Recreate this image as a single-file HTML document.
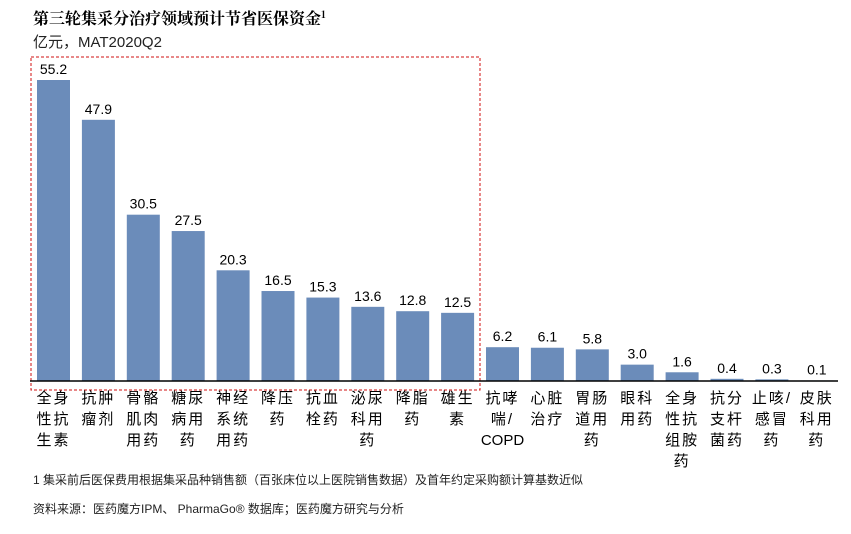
<!DOCTYPE html>
<html><head><meta charset="utf-8"><style>
body{margin:0;background:#fff;width:851px;height:529px;overflow:hidden;font-family:"Liberation Sans","Noto Sans CJK SC",sans-serif}
</style></head><body>
<svg width="851" height="529" xmlns="http://www.w3.org/2000/svg">
<text x="33" y="24" font-size="16" font-weight="bold" font-family="'Noto Serif CJK SC','Noto Sans CJK SC',serif">第三轮集采分治疗领域预计节省医保资金<tspan font-size="10" dy="-6">1</tspan></text>
<text x="33" y="47" font-size="15" fill="#222">亿元，MAT2020Q2</text>
<rect x="31" y="57" width="449" height="333" fill="none" stroke="#d01010" stroke-width="1" stroke-dasharray="3,2"/>
<g id="bars"></g>
<line x1="30" y1="381" x2="838" y2="381" stroke="#000" stroke-width="1.5"/>
<g id="labels"></g>
<text x="33" y="484" font-size="12" fill="#222">1 集采前后医保费用根据集采品种销售额（百张床位以上医院销售数据）及首年约定采购额计算基数近似</text>
<text x="33" y="513" font-size="12" fill="#222">资料来源：医药魔方IPM、 PharmaGo® 数据库；医药魔方研究与分析</text>
</svg>
<script>
const categories=[["全身","性抗","生素"],["抗肿","瘤剂"],["骨骼","肌肉","用药"],["糖尿","病用","药"],["神经","系统","用药"],["降压","药"],["抗血","栓药"],["泌尿","科用","药"],["降脂","药"],["雄生","素"],["抗哮","喘/","COPD"],["心脏","治疗"],["胃肠","道用","药"],["眼科","用药"],["全身","性抗","组胺","药"],["抗分","支杆","菌药"],["止咳/","感冒","药"],["皮肤","科用","药"]];
const values=[55.2,47.9,30.5,27.5,20.3,16.5,15.3,13.6,12.8,12.5,6.2,6.1,5.8,3.0,1.6,0.4,0.3,0.1];
const labelsTxt=["55.2","47.9","30.5","27.5","20.3","16.5","15.3","13.6","12.8","12.5","6.2","6.1","5.8","3.0","1.6","0.4","0.3","0.1"];
const NS="http://www.w3.org/2000/svg";
const base=381, scale=301/55.2, x0=53.5, pitch=44.9, bw=33;
const yOf=v=>base-v*scale;
const xOf=i=>x0+i*pitch;
const gb=document.getElementById('bars'), gl=document.getElementById('labels');
values.forEach((v,i)=>{
  const r=document.createElementNS(NS,'rect');
  r.setAttribute('x',xOf(i)-bw/2);r.setAttribute('y',yOf(v));
  r.setAttribute('width',bw);r.setAttribute('height',base-yOf(v));
  r.setAttribute('fill','#6b8cba');
  
  
  gb.appendChild(r);
  const t=document.createElementNS(NS,'text');
  t.setAttribute('x',xOf(i));t.setAttribute('y',yOf(v)-6);
  t.setAttribute('text-anchor','middle');t.setAttribute('font-size','14');
  t.textContent=labelsTxt[i];
  
  
  gb.appendChild(t);
  categories[i].forEach((ln,j)=>{
    const c=document.createElementNS(NS,'text');
    c.setAttribute('x',xOf(i));c.setAttribute('y',403+j*21);
    c.setAttribute('text-anchor','middle');c.setAttribute('font-size','15');
    c.setAttribute('letter-spacing',/^[A-Z]+$/.test(ln)?'0':'2');
    c.textContent=ln;
    
    
    gl.appendChild(c);
  });
});
</script>
</body></html>
